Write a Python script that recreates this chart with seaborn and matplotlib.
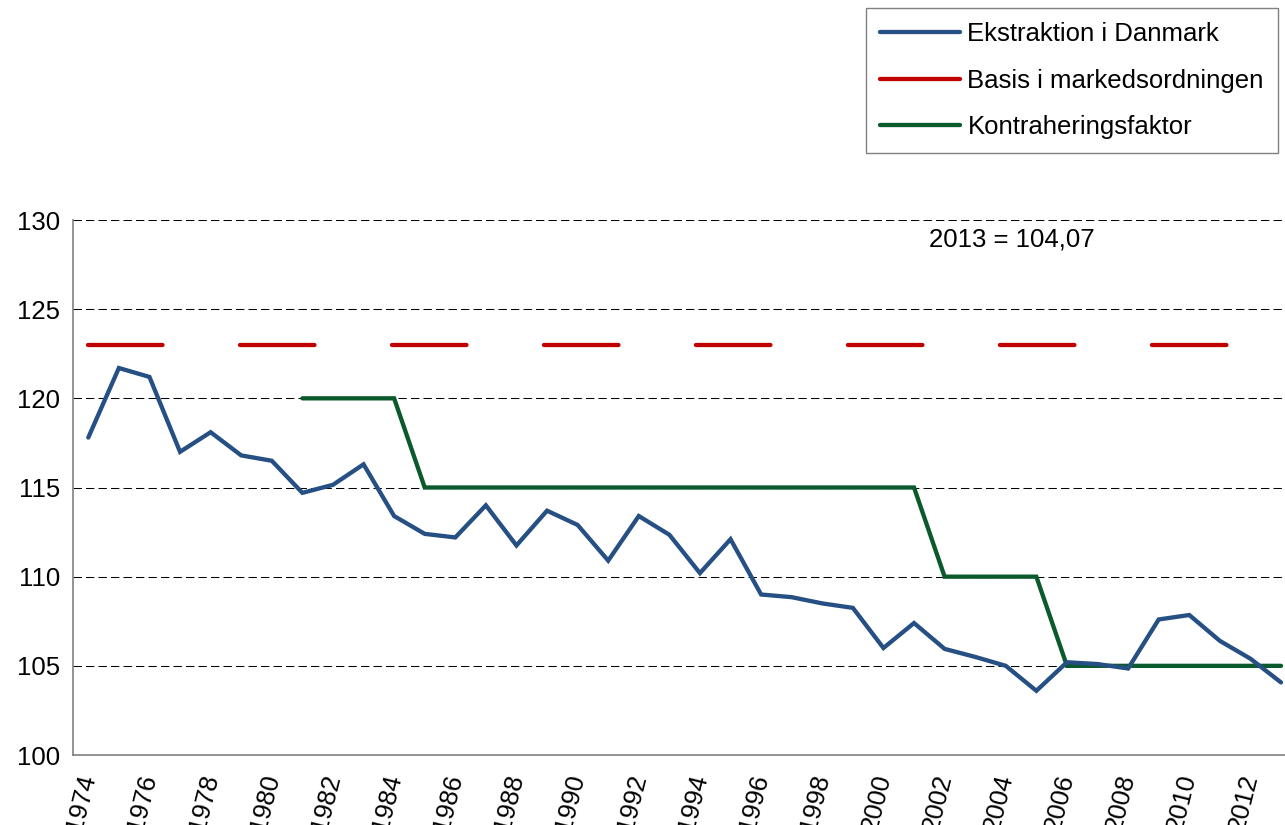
import numpy as np
import pandas as pd
import matplotlib
matplotlib.use("Agg")
import matplotlib.pyplot as plt
from matplotlib.lines import Line2D
from matplotlib.ticker import MultipleLocator, FixedLocator
import seaborn as sns

# data
years = list(range(1974, 2014))
ekstraktion = [117.8, 121.7, 121.2, 117.0, 118.1, 116.8, 116.5, 114.7, 115.15, 116.3,
               113.4, 112.4, 112.2, 114.0, 111.75, 113.7, 112.9, 110.9, 113.4, 112.35,
               110.2, 112.1, 109.0, 108.85, 108.5, 108.25, 106.0, 107.4, 105.95, 105.5,
               105.0, 103.6, 105.2, 105.1, 104.85, 107.6, 107.85, 106.4, 105.4, 104.07]
basis = [123.0] * len(years)
kontrakt_years = list(range(1981, 2014))
kontrakt = [120, 120, 120, 120] + [115] * 17 + [110] * 4 + [105] * 8

labels = ["Ekstraktion i Danmark", "Basis i markedsordningen", "Kontraheringsfaktor"]
colors = ["#264F84", "#C00000", "#0A5A2C"]
note = "2013 = 104,07"

df_e = pd.DataFrame({"year": years, "value": ekstraktion})
df_b = pd.DataFrame({"year": years, "value": basis})
df_k = pd.DataFrame({"year": kontrakt_years, "value": kontrakt})

sns.set_theme(style="white")
plt.rcParams["font.family"] = ["Liberation Sans", "DejaVu Sans"]
plt.rcParams["text.color"] = "black"
FS = 18.5
LW = 3.1

fig = plt.figure(figsize=(12.85, 8.25), dpi=100)
ax = fig.add_axes([73 / 1285, 1 - 755 / 825, 1 - 73 / 1285, (755 - 220) / 825])

sns.lineplot(data=df_e, x="year", y="value", ax=ax, color=colors[0], lw=LW,
             solid_joinstyle="miter", solid_capstyle="round", zorder=4)
sns.lineplot(data=df_b, x="year", y="value", ax=ax, color=colors[1], lw=LW, zorder=3)
ax.lines[-1].set_dashes((17.3, 18.0))
ax.lines[-1].set_dash_capstyle("round")
sns.lineplot(data=df_k, x="year", y="value", ax=ax, color=colors[2], lw=LW,
             solid_joinstyle="miter", solid_capstyle="round", zorder=3)

ax.set_xlim(1973.5, 2013.13)
ax.set_ylim(100, 130)
ax.yaxis.set_major_locator(MultipleLocator(5))
ax.xaxis.set_major_locator(FixedLocator(years[::2]))
ax.xaxis.set_minor_locator(FixedLocator([y - 0.5 for y in years]))
ax.set_xticklabels([str(y) for y in years[::2]], rotation=76, ha="right",
                   va="center", rotation_mode="anchor")
ax.tick_params(axis="x", which="major", length=0, pad=14, labelsize=FS, labelcolor="black")
ax.tick_params(axis="x", which="minor", length=5.5, width=1, color="#808080", direction="out")
ax.tick_params(axis="y", length=5.5, width=1, color="#808080", direction="out",
               labelsize=FS, labelcolor="black", pad=4)
ax.set_xlabel("")
ax.set_ylabel("")

ax.grid(False)
for v in range(105, 131, 5):
    ax.axhline(v, color="black", lw=0.75, ls=(0, (8, 4)), zorder=1)

for s in ["top", "right"]:
    ax.spines[s].set_visible(False)
for s in ["left", "bottom"]:
    ax.spines[s].set_color("#808080")
    ax.spines[s].set_linewidth(1.2)

ax.text(2001.5, 128.9, note, fontsize=FS, ha="left", va="center", color="black")

handles = [Line2D([0], [0], color=c, lw=LW, solid_capstyle="round") for c in colors]
leg = fig.legend(handles, labels, loc="upper right", bbox_to_anchor=(1278 / 1285, 1 - 8 / 825),
                 frameon=True, fancybox=False, fontsize=FS, handlelength=3.1,
                 handletextpad=0.3, labelspacing=0.88, borderpad=0.55, borderaxespad=0,
                 labelcolor="black")
leg.get_frame().set_edgecolor("#606060")
leg.get_frame().set_linewidth(1.0)

fig.savefig("out.png", dpi=100)
